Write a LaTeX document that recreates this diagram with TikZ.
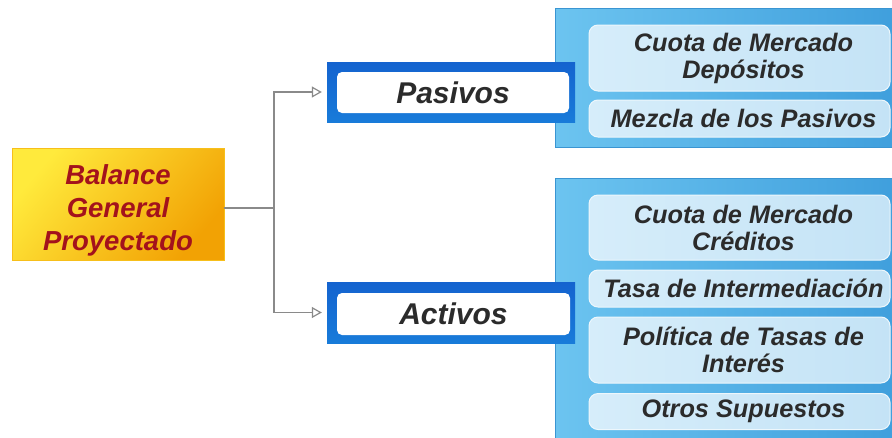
\documentclass[tikz,border=0pt]{standalone}
\usepackage{fontspec}
\setmainfont{Liberation Sans}
\usetikzlibrary{arrows.meta,shadings}
\definecolor{txtdark}{HTML}{2B2B2B}
\definecolor{balred}{HTML}{A3121C}
\definecolor{balY}{HTML}{FFEA3C}
\definecolor{balO}{HTML}{F2A204}
\definecolor{frameblue}{HTML}{1463CF}
\definecolor{framecyan}{HTML}{22B4F2}
\definecolor{panelL}{HTML}{6CC4F0}
\definecolor{panelR}{HTML}{3E9EDC}
\definecolor{panelB}{HTML}{3A95D2}
\definecolor{itemfill}{HTML}{C4E3F6}
\definecolor{itemL}{HTML}{D6EDFA}
\definecolor{conn}{HTML}{8A8A8A}
\newcommand{\rs}{\hspace*{8pt}}
\tikzset{
  balbox/.style={rectangle, draw=balO!60!balY, line width=0.6pt,
    top color=balY, bottom color=balO, shading angle=50,
    minimum width=212pt, minimum height=112pt,
    inner sep=0pt, align=center, text=balred,
    font=\fontsize{27.5}{33}\selectfont\bfseries\itshape},
  frameout/.style={rectangle, draw=none, inner sep=0pt,
    top color=frameblue, bottom color=frameblue!70!framecyan},
  framein/.style={rectangle, rounded corners=5pt, fill=white, draw=none,
    inner sep=0pt, text=txtdark, font=\fontsize{30}{34}\selectfont\bfseries\itshape},
  panel/.style={rectangle, draw=panelB, line width=0.8pt, inner sep=0pt,
    left color=panelL, right color=panelR},
  itembox/.style={rectangle, rounded corners=9pt, draw=white!70!itemfill, line width=1pt,
    left color=itemL, right color=itemfill, inner sep=0pt, align=center,
    text=txtdark, font=\fontsize{25.3}{27}\selectfont\bfseries\itshape},
  conline/.style={draw=conn, line width=1.3pt},
  conarrow/.style={conline, -{Triangle[open, length=10pt, width=11pt, line width=1.2pt]}, shorten >=5pt}
}
\begin{document}
\begin{tikzpicture}[x=1pt,y=-1pt]
\useasboundingbox (0,0) rectangle (892,437);
\clip (0,0) rectangle (892,437);
\fill[white] (0,0) rectangle (892,437);

% panels
\node[panel, minimum width=350pt, minimum height=139pt] (ptop) at (730,77.5) {};
\node[panel, minimum width=350pt, minimum height=280pt] (pbot) at (730,318) {};

% items top
\node[itembox, minimum width=301pt, minimum height=66pt] (i1) at (739.5,58) {\rs Cuota de Mercado\\\rs Depósitos};
\node[itembox, minimum width=301pt, minimum height=37pt] (i2) at (739.5,118.5) {\rs Mezcla de los Pasivos};

% items bottom
\node[itembox, minimum width=301pt, minimum height=65pt] (j1) at (739.5,227.5) {\rs Cuota de Mercado\\\rs Créditos};
\node[itembox, minimum width=301pt, minimum height=37pt] (j2) at (739.5,288.5) {\rs Tasa de Intermediación};
\node[itembox, minimum width=301pt, minimum height=66pt] (j3) at (739.5,350) {\rs Política de Tasas de\\\rs Interés};
\node[itembox, minimum width=301pt, minimum height=36pt] (j4) at (739.5,411.5) {\rs Otros Supuestos};

% Pasivos / Activos frames
\node[frameout, minimum width=248pt, minimum height=60pt] (pas) at (451,92) {};
\node[framein, minimum width=232pt, minimum height=41pt] (pasin) at (453,92.5) {Pasivos};
\node[frameout, minimum width=248pt, minimum height=61pt] (act) at (451,312.5) {};
\node[framein, minimum width=233pt, minimum height=42pt] (actin) at (453.5,314) {Activos};

% main box
\node[balbox] (bal) at (118,204) {\rule{0pt}{32pt}Balance\\General\\Proyectado};

% connectors
\coordinate (jn) at (274,208);
\draw[conline] (bal.east |- jn) -- (jn);
\draw[conarrow] (jn) |- (pas.west);
\draw[conarrow] (jn) |- (act.west);
\end{tikzpicture}
\end{document}
